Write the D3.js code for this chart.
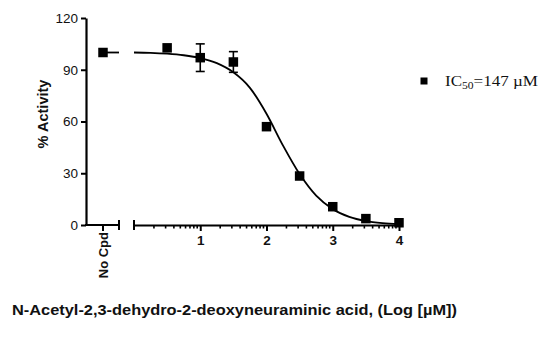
<!DOCTYPE html>
<html><head><meta charset="utf-8">
<script src="https://cdn.jsdelivr.net/npm/d3@7"></script>
<style>body{margin:0;background:#fff}svg{display:block}</style>
</head><body>
<script>
// ---- data ----
const controlLabel = ["No Cpd"];
const controlValue = [100];
const logConc = [0.5, 1, 1.5, 2, 2.5, 3, 3.5, 4];
const activity = [102.7, 97, 94.5, 57, 28.4, 10.6, 3.7, 1.3];
const errorSD = [0, 8, 6, 0, 0, 0, 0, 0];
const curveX = [0, 0.25, 0.5, 0.75, 1, 1.25, 1.5, 1.75, 2, 2.25, 2.5, 2.75, 3, 3.25, 3.5, 3.75, 4];
const curveY = [100, 99.8, 99.3, 98.4, 96.8, 93.8, 88.5, 79.5, 64.5, 46, 29.5, 17, 9.2, 4.7, 2.3, 1.1, 0.5];
const yTicks = [0, 30, 60, 90, 120];
const xTicks = [1, 2, 3, 4];
const legendLabel = ["IC", "50", "=147 µM"];

const W = 545, H = 337;
const svg = d3.select("body").append("svg").attr("width", W).attr("height", H);
const y = d3.scaleLinear().domain([0, 120]).range([225, 18]);
const x = d3.scaleLinear().domain([0, 4]).range([134, 399]);
const xc = d3.scalePoint().domain(controlLabel).range([103, 103]);
const font = "Liberation Sans, Arial, sans-serif";

// y axis
const yAxis = d3.axisLeft(y).tickValues(yTicks).tickSize(5).tickPadding(3).tickSizeOuter(0);
const gy = svg.append("g").attr("transform", "translate(86,0)").call(yAxis);
gy.select(".domain").attr("stroke-width", 2.2);
gy.selectAll(".tick line").attr("stroke-width", 2);
gy.selectAll("text").attr("font-family", font).attr("font-size", 13.5).attr("fill", "#111");

// left x segment (No Cpd)
const gl = svg.append("g");
gl.append("line").attr("x1", 85).attr("x2", 119).attr("y1", y(0)).attr("y2", y(0)).attr("stroke", "#000").attr("stroke-width", 2.2);
gl.append("line").attr("x1", 119).attr("x2", 119).attr("y1", y(0) - 5).attr("y2", y(0) + 5).attr("stroke", "#000").attr("stroke-width", 2);
gl.append("line").attr("x1", xc("No Cpd")).attr("x2", xc("No Cpd")).attr("y1", y(0)).attr("y2", y(0) + 6).attr("stroke", "#000").attr("stroke-width", 2);
gl.append("text").text(controlLabel[0]).attr("transform", `translate(${xc("No Cpd") + 5},232) rotate(-90)`)
  .attr("text-anchor", "end").attr("font-family", font).attr("font-weight", "bold").attr("font-size", 13).attr("fill", "#111");

// right x segment (log scale)
const xAxis = d3.axisBottom(x).tickValues(xTicks).tickSize(6).tickPadding(4).tickSizeOuter(0).tickFormat(d3.format("d"));
const gx = svg.append("g").attr("transform", `translate(0,${y(0)})`).call(xAxis);
gx.select(".domain").attr("stroke-width", 2.2);
gx.selectAll(".tick line").attr("stroke-width", 2);
gx.selectAll("text").attr("font-family", font).attr("font-size", 13.5).attr("font-weight", "bold").attr("fill", "#111");
const minor = [];
for (let n = 0; n < 4; n++) for (let k = 2; k <= 9; k++) minor.push(n + Math.log10(k));
gx.selectAll(".minor").data(minor).enter().append("line").attr("class", "minor")
  .attr("x1", d => x(d)).attr("x2", d => x(d)).attr("y1", 0).attr("y2", 3.5).attr("stroke", "#000").attr("stroke-width", 1.6);
gx.append("line").attr("x1", x(0)).attr("x2", x(0)).attr("y1", -5).attr("y2", 5).attr("stroke", "#000").attr("stroke-width", 2);

// fitted curve
const line = d3.line().x((d, i) => x(curveX[i])).y(d => y(d)).curve(d3.curveMonotoneX);
svg.append("path").attr("d", line(curveY)).attr("fill", "none").attr("stroke", "#000").attr("stroke-width", 1.8);
// curve continuation into control segment
svg.append("line").attr("x1", xc("No Cpd")).attr("x2", 119).attr("y1", y(controlValue[0])).attr("y2", y(controlValue[0]))
  .attr("stroke", "#000").attr("stroke-width", 1.8);

// error bars
const eb = svg.append("g");
logConc.forEach((c, i) => {
  if (!errorSD[i]) return;
  const cx = x(c), t = y(activity[i] + errorSD[i]), b = y(activity[i] - errorSD[i]);
  eb.append("line").attr("x1", cx).attr("x2", cx).attr("y1", t).attr("y2", b).attr("stroke", "#000").attr("stroke-width", 1.6);
  [t, b].forEach(v => eb.append("line").attr("x1", cx - 4.5).attr("x2", cx + 4.5).attr("y1", v).attr("y2", v).attr("stroke", "#000").attr("stroke-width", 1.6));
});

// markers
const s = 9.5;
svg.selectAll(".pt").data(activity).enter().append("rect").attr("class", "pt")
  .attr("x", (d, i) => x(logConc[i]) - s / 2).attr("y", d => y(d) - s / 2).attr("width", s).attr("height", s).attr("fill", "#000");
svg.selectAll(".ctl").data(controlValue).enter().append("rect").attr("class", "ctl")
  .attr("x", (d, i) => xc(controlLabel[i]) - s / 2).attr("y", d => y(d) - s / 2).attr("width", s).attr("height", s).attr("fill", "#000");

// y title
svg.append("text").text("% Activity").attr("transform", "translate(47.5,114) rotate(-90)").attr("text-anchor", "middle")
  .attr("font-family", font).attr("font-weight", "bold").attr("font-size", 14.5).attr("fill", "#111");

// x title
svg.append("text").text("N-Acetyl-2,3-dehydro-2-deoxyneuraminic acid, (Log [µM])").attr("x", 12).attr("y", 315)
  .attr("font-family", font).attr("font-weight", "bold").attr("font-size", 15).attr("fill", "#111")
  .attr("textLength", 445).attr("lengthAdjust", "spacingAndGlyphs");

// legend
svg.append("rect").attr("x", 420.5).attr("y", 77.5).attr("width", 7).attr("height", 7).attr("fill", "#000");
const lt = svg.append("text").attr("x", 445).attr("y", 86).attr("font-family", "Liberation Serif, Times New Roman, serif").attr("font-size", 14).attr("fill", "#111")
  .attr("textLength", 93).attr("lengthAdjust", "spacingAndGlyphs");
lt.append("tspan").text(legendLabel[0]);
lt.append("tspan").text(legendLabel[1]).attr("font-size", 9.5).attr("dy", 3);
lt.append("tspan").text(legendLabel[2]).attr("dy", -3);
</script>
</body></html>
